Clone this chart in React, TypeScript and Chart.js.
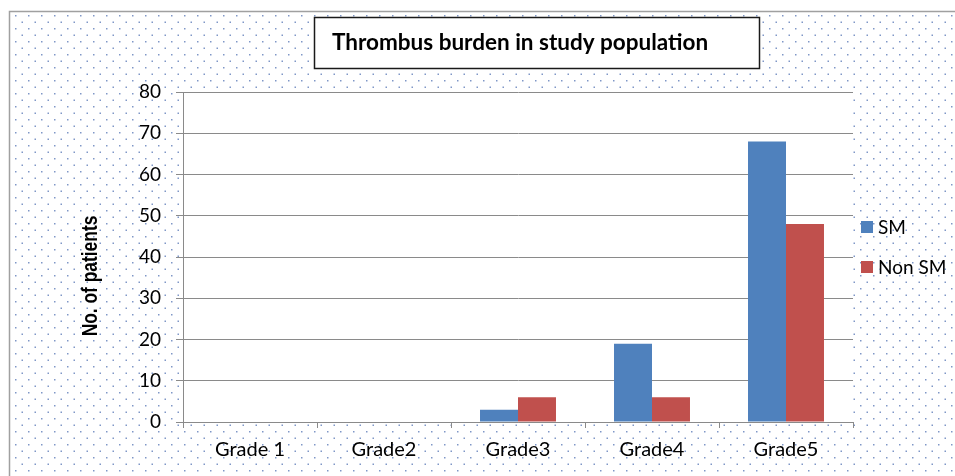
import React, { useEffect, useRef } from "react";
import { Chart, registerables } from "chart.js";

Chart.register(...registerables);

const categories = ["Grade 1", "Grade2", "Grade3", "Grade4", "Grade5"];
const smValues = [0, 0, 3, 19, 68];
const nonSmValues = [0, 0, 6, 6, 48];
const seriesLabels = ["SM", "Non SM"];
const seriesColors = ["#4F81BD", "#C0504D"];
const chartTitle = "Thrombus burden in study population";
const yAxisTitle = "No. of patients";
const yMin = 0;
const yMax = 80;
const yStep = 10;

const FONT = "Lato, 'Liberation Sans', sans-serif";
const GRID = "#8a8a8a";

const framePlugin = {
  id: "frame",
  beforeDraw(chart: any) {
    const { ctx, width, height, chartArea } = chart;
    ctx.save();
    ctx.fillStyle = "#ffffff";
    ctx.fillRect(0, 0, width, height);
    const tile = document.createElement("canvas");
    tile.width = 13;
    tile.height = 13;
    const t = tile.getContext("2d")!;
    t.fillStyle = "rgba(95,125,185,0.8)";
    t.fillRect(2, 2, 1.5, 1.5);
    t.fillRect(8.5, 8.5, 1.5, 1.5);
    const pat = ctx.createPattern(tile, "repeat");
    if (pat) {
      ctx.fillStyle = pat;
      ctx.fillRect(10, 12, width - 10, height - 12);
    }
    ctx.strokeStyle = "#a0a0a0";
    ctx.lineWidth = 1.5;
    ctx.beginPath();
    ctx.moveTo(9.5, height);
    ctx.lineTo(9.5, 11.5);
    ctx.lineTo(width, 11.5);
    ctx.stroke();
    ctx.fillStyle = "#ffffff";
    ctx.fillRect(
      chartArea.left,
      chartArea.top,
      chartArea.right - chartArea.left,
      chartArea.bottom - chartArea.top
    );
    ctx.restore();
  },
  afterDraw(chart: any) {
    const { ctx, chartArea } = chart;
    ctx.save();
    // title box
    ctx.fillStyle = "#ffffff";
    ctx.fillRect(314, 17, 445, 51);
    ctx.strokeStyle = "#1a1a1a";
    ctx.lineWidth = 1.5;
    ctx.strokeRect(314.5, 17.5, 445, 51);
    ctx.fillStyle = "#000000";
    ctx.font = "bold 22.5px " + FONT;
    ctx.textBaseline = "middle";
    ctx.textAlign = "left";
    ctx.fillText(chartTitle, 332, 43);
    // y axis title (condensed)
    ctx.save();
    ctx.translate(91, (chartArea.top + chartArea.bottom) / 2 + 19);
    ctx.rotate(-Math.PI / 2);
    ctx.scale(0.79, 1);
    ctx.font = "bold 22px 'Liberation Sans', Arial, sans-serif";
    ctx.textAlign = "center";
    ctx.textBaseline = "middle";
    ctx.fillText(yAxisTitle, 0, 0);
    ctx.restore();
    // legend
    ctx.font = "19px " + FONT;
    ctx.textAlign = "left";
    ctx.textBaseline = "middle";
    const lx = chartArea.right + 8;
    chart.data.datasets.forEach((ds: any, i: number) => {
      const cy = 227 + i * 40;
      ctx.fillStyle = ds.backgroundColor;
      ctx.fillRect(lx, cy - 6, 12, 12);
      ctx.fillStyle = "#000000";
      ctx.fillText(ds.label, lx + 17, cy + 1);
    });
    ctx.restore();
  },
};

export default function App() {
  const ref = useRef<HTMLCanvasElement | null>(null);
  useEffect(() => {
    if (!ref.current) return;
    const chart = new Chart(ref.current, {
      type: "bar",
      data: {
        labels: categories,
        datasets: [
          {
            label: seriesLabels[0],
            data: smValues,
            backgroundColor: seriesColors[0],
            categoryPercentage: 0.567,
            barPercentage: 1.0,
          },
          {
            label: seriesLabels[1],
            data: nonSmValues,
            backgroundColor: seriesColors[1],
            categoryPercentage: 0.567,
            barPercentage: 1.0,
          },
        ],
      },
      options: {
        responsive: false,
        animation: false,
        devicePixelRatio: 1,
        layout: { padding: { left: 80, top: 92, right: 102, bottom: 14 } },
        plugins: {
          legend: { display: false },
          title: { display: false },
          tooltip: { enabled: false },
        },
        scales: {
          x: {
            afterFit(scale: any) {
              scale.height = 40;
            },
            grid: {
              display: true,
              drawOnChartArea: false,
              drawTicks: true,
              tickLength: 6,
              color: GRID,
              offset: true,
            },
            border: { display: true, color: GRID, width: 1 },
            ticks: {
              padding: 10,
              color: "#000000",
              font: { family: FONT, size: 20 },
            },
          },
          y: {
            min: yMin,
            max: yMax,
            afterFit(scale: any) {
              scale.width = 103;
            },
            ticks: {
              stepSize: yStep,
              padding: 15,
              color: "#000000",
              font: { family: FONT, size: 19 },
            },
            grid: { color: GRID, tickLength: 7, lineWidth: 1 },
            border: { display: true, color: GRID, width: 1 },
            title: { display: false, text: yAxisTitle },
          },
        },
      },
      plugins: [framePlugin],
    });
    return () => chart.destroy();
  }, []);
  return (
    <div style={{ position: "absolute", left: 0, top: 0, width: 955, height: 476 }}>
      <canvas ref={ref} width={955} height={476} />
    </div>
  );
}
